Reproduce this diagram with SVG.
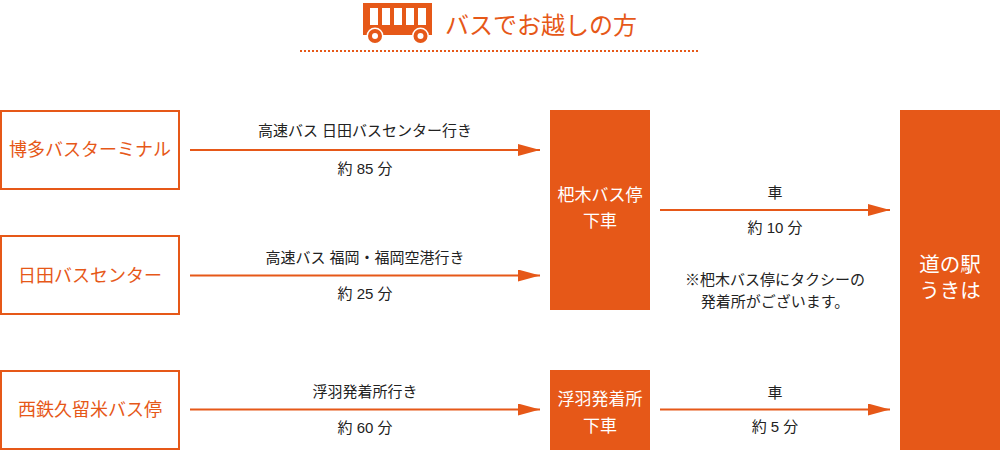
<svg xmlns="http://www.w3.org/2000/svg" width="1000" height="450" viewBox="0 0 1000 450">
<defs>
<marker id="arrow" markerUnits="userSpaceOnUse" markerWidth="22" markerHeight="12" refX="22" refY="6" orient="auto"><path d="M0 0L22 6L0 12Z" fill="#e65818"/></marker>
</defs>
<style>
text{font-family:"Liberation Sans","Noto Sans CJK JP",sans-serif;text-anchor:middle}
.n{font-size:18px;fill:#e65818}
.w{font-size:17px;fill:#fff}
.b{font-size:20.500px;fill:#fff}
.l{font-size:15px;fill:#222}
.box{fill:#fff;stroke:#e65818;stroke-width:2}
.solid{fill:#e65818}
.c{stroke:#e65818;stroke-width:2;fill:none;marker-end:url(#arrow)}
</style>
<g id="title">
<rect x="363" y="3" width="69" height="32" class="solid"/>
<g fill="#fff"><rect x="370" y="8" width="8" height="17"/><rect x="382" y="8" width="8" height="17"/><rect x="394" y="8" width="8" height="17"/><rect x="406" y="8" width="8" height="17"/><rect x="418" y="8" width="8" height="17"/></g>
<circle cx="375" cy="36" r="8.500" fill="#fff"/><circle cx="375" cy="36" r="7" class="solid"/><circle cx="375" cy="36" r="3" fill="#fff"/>
<circle cx="420.500" cy="36" r="8.500" fill="#fff"/><circle cx="420.500" cy="36" r="7" class="solid"/><circle cx="420.500" cy="36" r="3" fill="#fff"/>
<text x="541" y="34" font-size="24" fill="#e65818">バスでお越しの方</text>
<line x1="300" y1="51" x2="700" y2="51" stroke="#e65818" stroke-width="2" stroke-dasharray="2 2"/>
</g>
<g id="connectors">
<line class="c" x1="190" y1="150" x2="540" y2="150"/>
<line class="c" x1="190" y1="275.500" x2="540" y2="275.500"/>
<line class="c" x1="190" y1="409.500" x2="540" y2="409.500"/>
<line class="c" x1="660" y1="210" x2="890" y2="210"/>
<line class="c" x1="660" y1="409.500" x2="890" y2="409.500"/>
</g>
<g id="node-hakata"><rect class="box" x="1" y="111" width="178" height="78"/><text class="n" x="90" y="156">博多バスターミナル</text></g>
<g id="node-hita"><rect class="box" x="1" y="236" width="178" height="78"/><text class="n" x="90" y="282">日田バスセンター</text></g>
<g id="node-nishitetsu"><rect class="box" x="1" y="371" width="178" height="78"/><text class="n" x="90" y="416">西鉄久留米バス停</text></g>
<g id="node-hakinoki"><rect class="solid" x="550" y="110" width="100" height="200"/><text class="w" x="600" y="201">杷木バス停</text><text class="w" x="600" y="227">下車</text></g>
<g id="node-ukiha-stop"><rect class="solid" x="550" y="370" width="100" height="80"/><text class="w" x="600" y="405">浮羽発着所</text><text class="w" x="600" y="432">下車</text></g>
<g id="node-station"><rect class="solid" x="900" y="110" width="100" height="340"/><text class="b" x="950" y="272">道の駅</text><text class="b" x="950" y="298">うきは</text></g>
<g id="labels">
<text class="l" x="365" y="136">高速バス 日田バスセンター行き</text>
<text class="l" x="365" y="174">約 85 分</text>
<text class="l" x="365" y="263">高速バス 福岡・福岡空港行き</text>
<text class="l" x="365" y="299">約 25 分</text>
<text class="l" x="365" y="397">浮羽発着所行き</text>
<text class="l" x="365" y="433">約 60 分</text>
<text class="l" x="775" y="198">車</text>
<text class="l" x="775" y="233">約 10 分</text>
<text class="l" x="775" y="285">※杷木バス停にタクシーの</text>
<text class="l" x="775" y="307">発着所がございます。</text>
<text class="l" x="775" y="398">車</text>
<text class="l" x="775" y="432">約 5 分</text>
</g>
</svg>
